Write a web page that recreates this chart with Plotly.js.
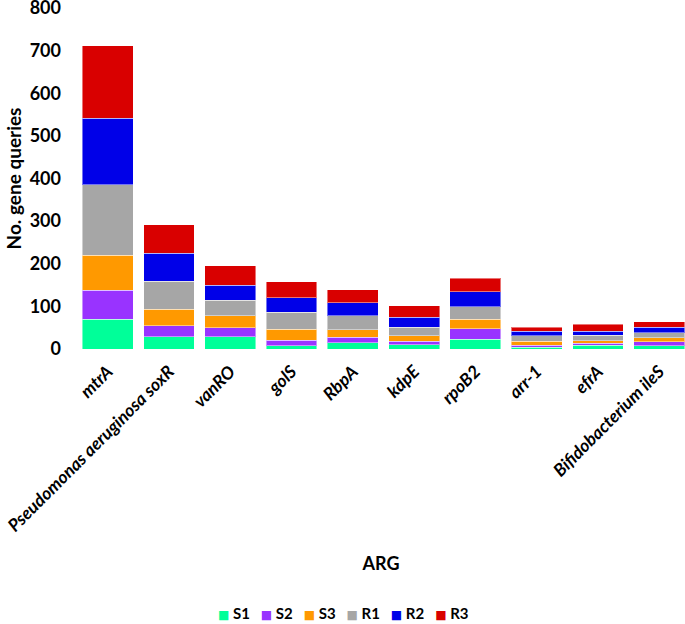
<!DOCTYPE html>
<html>
<head>
<meta charset="utf-8">
<script src="https://cdn.plot.ly/plotly-3.0.1.min.js"></script>
<style>html,body{margin:0;padding:0;background:#fff;}#chart{width:685px;height:624px;}</style>
</head>
<body>
<div id="chart"></div>
<script>
const categories = ["mtrA", "Pseudomonas aeruginosa soxR", "vanRO", "golS", "RbpA", "kdpE", "rpoB2", "arr-1", "efrA", "Bifidobacterium ileS"];
const S1 = [70, 29, 29, 8, 15, 10, 23, 4, 9, 8];
const S2 = [68, 26, 21, 13, 12, 8, 24, 5, 5, 9];
const S3 = [82, 38, 28, 25, 18, 13, 23, 9, 5, 9];
const R1 = [165, 66, 36, 40, 33, 20, 29, 13, 13, 12];
const R2 = [156, 66, 36, 34, 30, 23, 35, 11, 10, 13];
const R3 = [171, 67, 45, 38, 31, 27, 32, 9, 16, 13];
const seriesNames = ["S1", "S2", "S3", "R1", "R2", "R3"];
const seriesColors = ["#00FF99", "#9933FF", "#FF9900", "#A6A6A6", "#0000E8", "#D90000"];
const yTickVals = [0, 100, 200, 300, 400, 500, 600, 700, 800];

const FONT = "Lato, 'Open Sans', sans-serif";
const allSeries = [S1, S2, S3, R1, R2, R3];
const xIdx = categories.map((c, i) => i);
const traces = allSeries.map((vals, k) => ({
  type: "bar",
  name: seriesNames[k],
  x: xIdx,
  y: vals,
  marker: {color: seriesColors[k], line: {color: "rgba(255,255,255,0.45)", width: 1}},
  hoverinfo: "x+y+name",
  showlegend: false
}));

// compact legend row (as in the reference), built from the series names and colours
const NB = "\u00A0";
const legendText = seriesNames.map((n, k) =>
  '<span style="color:' + seriesColors[k] + ';font-size:12px;font-family:DejaVu Sans">\u25A0</span>' + NB + n
).join(NB.repeat(3));

const W = 685, ML = 77, MR = 0;
const layout = {
  width: W, height: 624,
  margin: {l: ML, r: MR, t: 8, b: 275},
  paper_bgcolor: "#fff", plot_bgcolor: "#fff",
  barmode: "stack",
  bargap: 0.17,
  font: {family: FONT, color: "#000"},
  xaxis: {
    range: [-0.5, 9.42],
    tickmode: "array",
    tickvals: xIdx,
    ticktext: categories,
    tickangle: -45,
    ticks: "",
    ticklabeloverflow: "allow",
    showline: false, showgrid: false, zeroline: false,
    ticklabelstandoff: 8,
    tickfont: {family: FONT, size: 17.5, weight: "bold", style: "italic", color: "#000"},
    title: {text: "ARG", font: {family: FONT, size: 18, weight: "bold", color: "#000"}, standoff: 22}
  },
  yaxis: {
    range: [0, 800],
    tickmode: "array",
    tickvals: yTickVals,
    ticktext: yTickVals.map(String),
    ticks: "",
    ticklabeloverflow: "allow",
    showline: false, showgrid: false, zeroline: false,
    ticklabelstandoff: 15,
    tickfont: {family: FONT, size: 18, weight: "bold", color: "#000"},
    title: {text: "No. gene queries", font: {family: FONT, size: 19, weight: "bold", color: "#000"}, standoff: 3}
  },
  annotations: [{
    xref: "paper", yref: "paper",
    x: (W / 2 - ML) / (W - ML - MR), xanchor: "center",
    y: 0, yshift: -264, yanchor: "middle",
    showarrow: false,
    text: legendText,
    font: {family: FONT, size: 15, weight: "bold", color: "#000"}
  }]
};

Plotly.newPlot("chart", traces, layout, {displayModeBar: false, staticPlot: true});
</script>
</body>
</html>
